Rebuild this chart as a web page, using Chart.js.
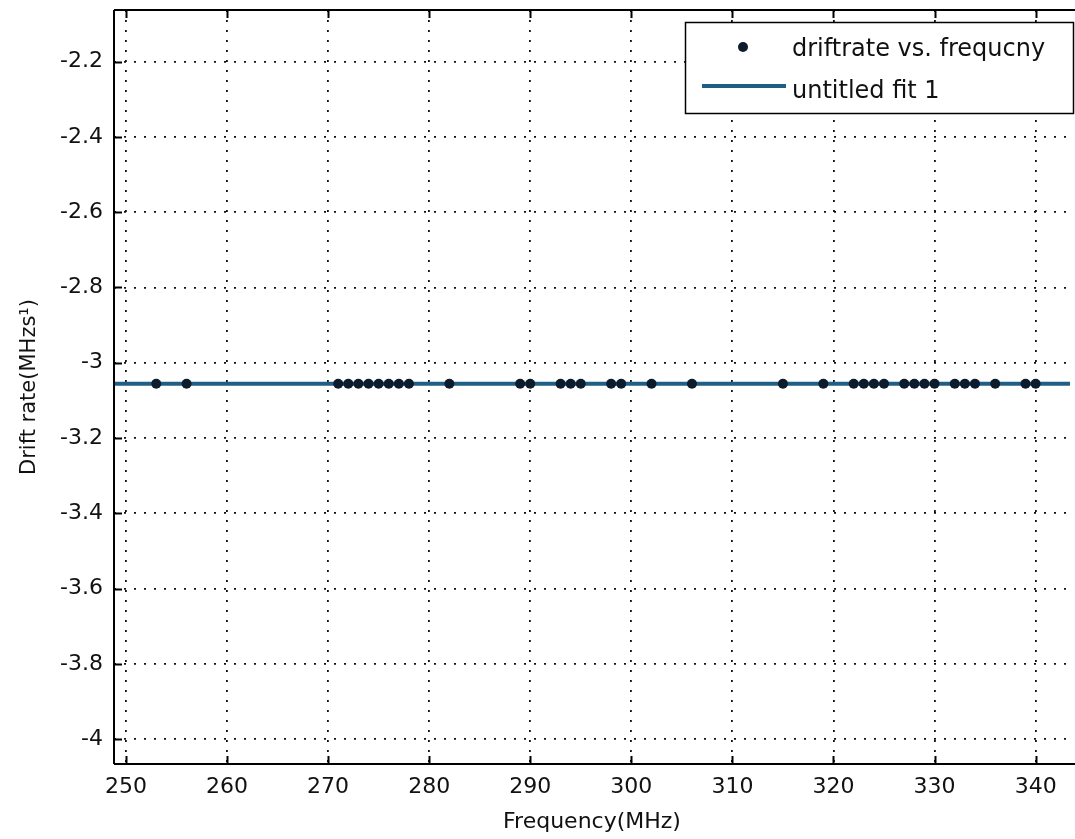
<!DOCTYPE html>
<html>
<head>
<meta charset="utf-8">
<script src="https://cdn.jsdelivr.net/npm/chart.js@4/dist/chart.umd.min.js"></script>
<style>
  html, body { margin: 0; padding: 0; background: #fff; }
  #wrap { width: 1075px; height: 839px; }
</style>
</head>
<body>
<div id="wrap"><canvas id="c" width="1075" height="839"></canvas></div>
<script>
// ---- data ----
const frequencies = [253, 256, 271, 272, 273, 274, 275, 276, 277, 278, 282, 289, 290, 293, 294, 295, 298, 299, 302, 306, 315, 319, 322, 323, 324, 325, 327, 328, 329, 330, 332, 333, 334, 336, 339, 340];
const driftRates = [-3.056, -3.056, -3.056, -3.056, -3.056, -3.056, -3.056, -3.056, -3.056, -3.056, -3.056, -3.056, -3.056, -3.056, -3.056, -3.056, -3.056, -3.056, -3.056, -3.056, -3.056, -3.056, -3.056, -3.056, -3.056, -3.056, -3.056, -3.056, -3.056, -3.056, -3.056, -3.056, -3.056, -3.056, -3.056, -3.056];
const fitX = [240, 360];
const fitY = [-3.056, -3.056];
const seriesLabels = ['driftrate vs. frequcny', 'untitled fit 1'];
const xTitle = 'Frequency(MHz)';
const yTitle = 'Drift rate(MHzs\u00B9)';
const xRange = [248.82, 343.4];
const yRange = [-4.066, -2.063];

const FONT = "'DejaVu Sans', sans-serif";
const LINE_COLOR = '#1f5f86';
const DOT_COLOR = '#0c1c2c';

const pts = frequencies.map((f, i) => ({ x: f, y: driftRates[i] }));
const fitPts = fitX.map((x, i) => ({ x: x, y: fitY[i] }));

const framePlugin = {
  id: 'frame',
  afterDraw(chart) {
    const { ctx, chartArea: a, scales } = chart;
    ctx.save();
    ctx.strokeStyle = '#000';
    ctx.lineWidth = 2;
    ctx.beginPath();
    ctx.moveTo(a.left, a.bottom); ctx.lineTo(a.right + 5, a.bottom);
    ctx.moveTo(a.left, a.top); ctx.lineTo(a.right + 5, a.top);
    ctx.moveTo(a.left, a.top); ctx.lineTo(a.left, a.bottom);
    const TL = 8;
    scales.x.ticks.forEach(t => {
      const px = Math.round(scales.x.getPixelForValue(t.value)) + 0.5;
      ctx.moveTo(px, a.bottom); ctx.lineTo(px, a.bottom - TL);
      ctx.moveTo(px, a.top); ctx.lineTo(px, a.top + TL);
    });
    scales.y.ticks.forEach(t => {
      const py = Math.round(scales.y.getPixelForValue(t.value)) + 0.5;
      ctx.moveTo(a.left, py); ctx.lineTo(a.left + TL, py);
    });
    ctx.stroke();

    // legend box
    const L = 685, T = 22, R = 1073, B = 113;
    ctx.fillStyle = '#fff';
    ctx.fillRect(L, T, R - L, B - T);
    ctx.lineWidth = 1.5;
    ctx.strokeRect(L + 0.5, T + 0.5, R - L, B - T);
    ctx.fillStyle = DOT_COLOR;
    ctx.beginPath(); ctx.arc(743, 47, 5, 0, Math.PI * 2); ctx.fill();
    ctx.strokeStyle = LINE_COLOR;
    ctx.lineWidth = 4;
    ctx.beginPath(); ctx.moveTo(702, 86); ctx.lineTo(786, 86); ctx.stroke();
    ctx.fillStyle = '#111';
    ctx.font = '24px ' + FONT;
    ctx.textBaseline = 'middle';
    ctx.textAlign = 'left';
    ctx.fillText(chart.data.datasets[0].label, 792, 50);
    ctx.fillText(chart.data.datasets[1].label, 792, 92);
    ctx.restore();
  }
};

new Chart(document.getElementById('c'), {
  type: 'scatter',
  data: {
    datasets: [
      {
        type: 'scatter',
        label: seriesLabels[0],
        data: pts,
        pointRadius: 5,
        pointHoverRadius: 5,
        pointBackgroundColor: DOT_COLOR,
        pointBorderColor: DOT_COLOR,
        pointBorderWidth: 0,
        order: 0
      },
      {
        type: 'line',
        label: seriesLabels[1],
        data: fitPts,
        borderColor: LINE_COLOR,
        borderWidth: 4,
        pointRadius: 0,
        fill: false,
        order: 1
      }
    ]
  },
  options: {
    responsive: false,
    animation: false,
    events: [],
    layout: { padding: { top: 10, right: 0, left: 0, bottom: 0 } },
    plugins: { legend: { display: false }, tooltip: { enabled: false } },
    scales: {
      x: {
        type: 'linear',
        min: xRange[0], max: xRange[1],
        afterFit(s) { s.height = 75; s.paddingLeft = 0; s.paddingRight = 0; },
        ticks: {
          stepSize: 10, includeBounds: false, autoSkip: false, maxRotation: 0,
          color: '#111', padding: 10,
          font: { family: FONT, size: 22 },
          callback: v => String(Math.round(v))
        },
        grid: { color: '#111', lineWidth: 1.8, drawTicks: false },
        border: { display: false, dash: [2, 8] },
        title: {
          display: true, text: xTitle, color: '#111',
          font: { family: FONT, size: 22 }, padding: { top: 0, bottom: 4 }
        }
      },
      y: {
        type: 'linear',
        min: yRange[0], max: yRange[1],
        afterFit(s) { s.width = 114; s.paddingTop = 0; s.paddingBottom = 0; },
        ticks: {
          stepSize: 0.2, includeBounds: false, autoSkip: false,
          color: '#111', padding: 11,
          font: { family: FONT, size: 22 },
          callback: v => String(Math.round(v * 10) / 10)
        },
        grid: { color: '#111', lineWidth: 1.8, drawTicks: false },
        border: { display: false, dash: [2, 8] },
        title: {
          display: true, text: yTitle, color: '#111',
          font: { family: FONT, size: 21 }, padding: { top: 17, bottom: 0 }
        }
      }
    }
  },
  plugins: [framePlugin]
});
</script>
</body>
</html>
